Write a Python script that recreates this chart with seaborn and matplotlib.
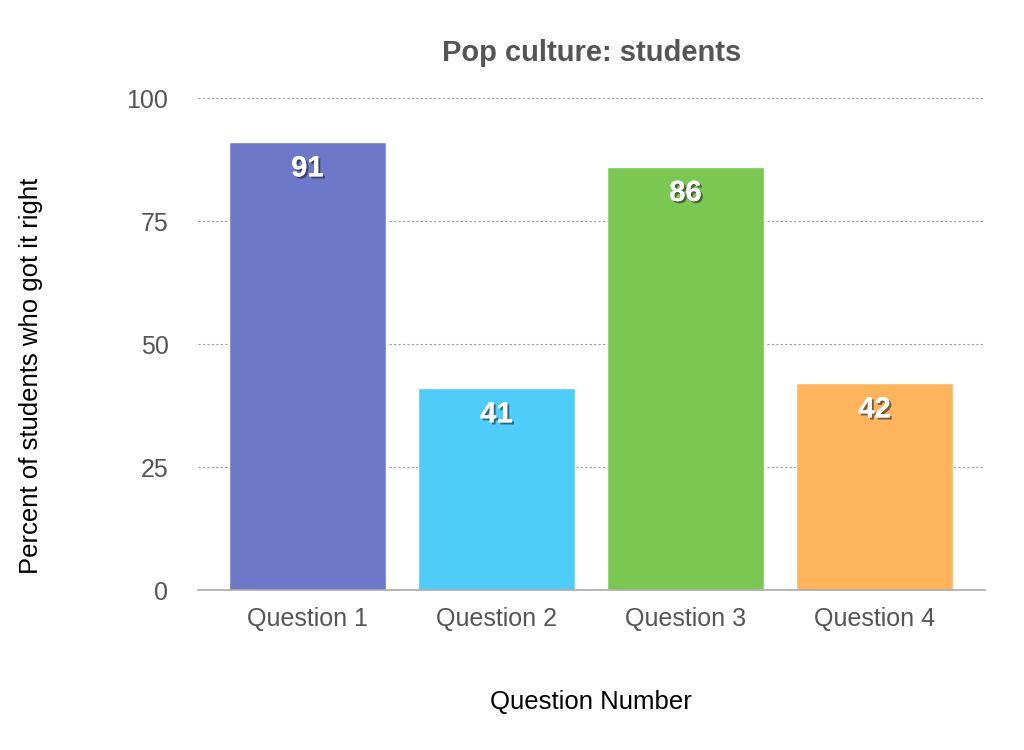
import matplotlib
matplotlib.use("Agg")
import matplotlib.pyplot as plt
import matplotlib.patheffects as pe
import seaborn as sns
import pandas as pd

# chart data
questions = ["Question 1", "Question 2", "Question 3", "Question 4"]
percent_right = [91, 41, 86, 42]
bar_colors = ["#6E78C8", "#4ECDFB", "#7AC852", "#FDB45C"]
y_ticks = [0, 25, 50, 75, 100]

df = pd.DataFrame({"question": questions, "percent": percent_right})

sns.set_style("white")
plt.rcParams["font.family"] = ["Liberation Sans", "DejaVu Sans"]

fig = plt.figure(figsize=(10.24, 7.5), dpi=100)
ax = fig.add_axes([0.193, 0.2133, 0.769, 0.656])

sns.barplot(data=df, x="question", y="percent", hue="question",
            palette=bar_colors, width=0.83, legend=False, ax=ax, saturation=1)

ax.set_ylim(0, 100)
ax.set_xlim(-0.58, 3.585)
ax.set_yticks(y_ticks)
ax.yaxis.grid(True, linestyle=(0, (2, 2)), color="#9a9a9a", linewidth=0.8)
ax.set_axisbelow(True)
for s in ["top", "right", "left"]:
    ax.spines[s].set_visible(False)
ax.spines["bottom"].set_color("#aaaaaa")
ax.spines["bottom"].set_linewidth(1.2)
ax.tick_params(axis="both", length=0, labelsize=18, labelcolor="#555555")
ax.tick_params(axis="y", pad=21)
ax.tick_params(axis="x", pad=12)

# value labels
for i, v in enumerate(percent_right):
    ax.text(i, v - 5.3, str(v), ha="center", va="center", color="white",
            fontsize=21, fontweight="bold",
            path_effects=[pe.withSimplePatchShadow(offset=(1.5, -1.5), shadow_rgbFace="#222222", alpha=0.6),
                          pe.Normal()])

ax.set_title("Pop culture: students", fontsize=21, fontweight="bold", color="#555555", pad=27)
ax.set_ylabel("Percent of students who got it right", fontsize=18.5, color="black", labelpad=60)
ax.yaxis.label.set_y(0.435)
ax.set_xlabel("Question Number", fontsize=18.5, color="black", labelpad=43)

fig.savefig("out.png", dpi=100)
